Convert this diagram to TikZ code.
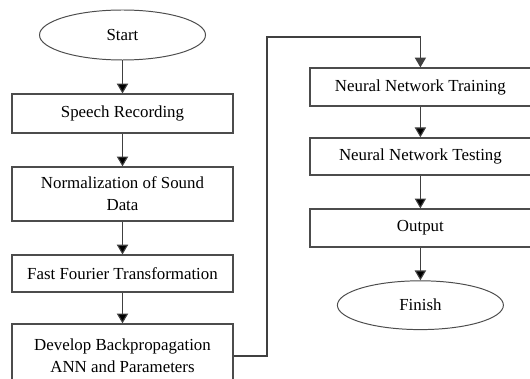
\documentclass[tikz,border=0pt]{standalone}
\usepackage{fontspec}
\setmainfont{Liberation Serif}
\usetikzlibrary{shapes.geometric,arrows.meta}

\tikzset{
    stepbox/.style={shape=rectangle,draw=black!70,line width=0.9pt,minimum width=5.525cm,align=center,font=\fontsize{12}{15.5}\selectfont},
    terminal/.style={shape=ellipse,draw=black!70,line width=0.7pt,inner sep=0pt,minimum width=4.15cm,minimum height=1.25cm,font=\fontsize{12}{15.5}\selectfont},
    flow/.style={draw=black!75,line width=0.8pt,-{Triangle[width=8pt,length=7pt]}}
}

\begin{document}
\begin{tikzpicture}
    \useasboundingbox (0,0) rectangle (13.25,-9.475);
    \clip (0,0) rectangle (13.25,-9.475);

    \node[terminal] (start) at (3.0625,-0.875) {Start};
    \node[stepbox, minimum height=0.975cm] (speech) at (3.0625,-2.84) {Speech Recording};
    \node[stepbox, minimum height=1.35cm] (norm) at (3.0625,-4.85) {Normalization of Sound\\Data};
    \node[stepbox, minimum height=0.925cm] (fft) at (3.0625,-6.84) {Fast Fourier Transformation};
    \node[stepbox, minimum height=1.6cm] (dev) at (3.0625,-8.9) {Develop Backpropagation\\ANN and Parameters};

    \node[stepbox, minimum height=0.95cm] (train) at (10.51,-2.175) {Neural Network Training};
    \node[stepbox, minimum height=0.925cm] (test) at (10.51,-3.91) {Neural Network Testing};
    \node[stepbox, minimum height=0.95cm] (output) at (10.51,-5.7) {Output};
    \node[terminal, minimum height=1.22cm] (finish) at (10.51,-7.63) {Finish};

    \coordinate (turn) at (6.675,-0.925);

    \path[flow] (start) edge (speech);
    \path[flow] (speech) edge (norm);
    \path[flow] (norm) edge (fft);
    \path[flow] (fft) edge (dev);

    \draw[flow] (dev.east) -| (turn) -| (train.north);

    \path[flow] (train) edge (test);
    \path[flow] (test) edge (output);
    \path[flow] (output) edge (finish);

\end{tikzpicture}
\end{document}
